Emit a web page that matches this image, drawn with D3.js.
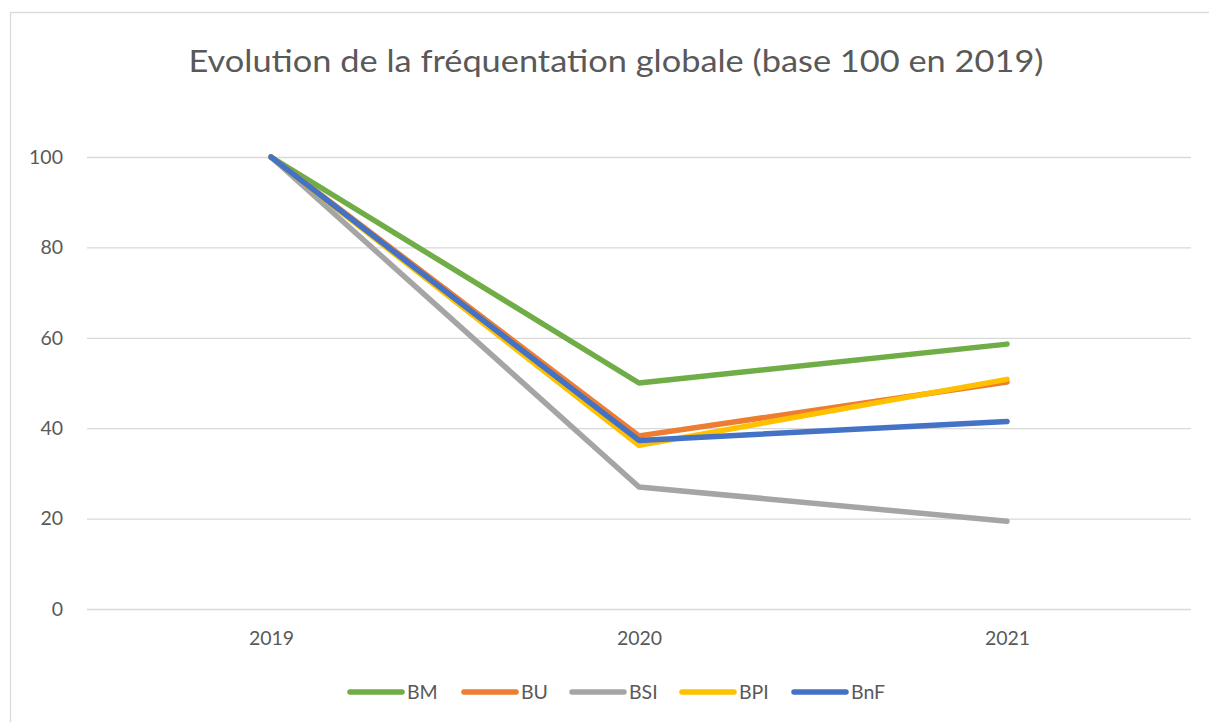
<!DOCTYPE html>
<html><head><meta charset="utf-8">
<script src="https://cdn.jsdelivr.net/npm/d3@7"></script>
<style>body{margin:0;background:#fff;}svg{display:block;}</style>
</head><body>
<svg id="c" width="1209" height="722"></svg>
<script>
const years = ["2019", "2020", "2021"];
const seriesNames = ["BM", "BU", "BSI", "BPI", "BnF"];
const BM = [100, 50, 58.6];
const BU = [100, 38.3, 50.2];
const BSI = [100, 27, 19.4];
const BPI = [100, 36.2, 50.8];
const BnF = [100, 37.3, 41.5];
const yTicks = [0, 20, 40, 60, 80, 100];
const colors = ["#70AD47", "#ED7D31", "#A5A5A5", "#FFC000", "#4472C4"];
const title = "Evolution de la fréquentation globale (base 100 en 2019)";

(function () {
const values = [BM, BU, BSI, BPI, BnF];
const series = seriesNames.map((n, i) => ({name: n, color: colors[i], vals: values[i]}));

const svg = d3.select("#c");
const font = "Lato, 'Open Sans', sans-serif";
svg.append("rect").attr("x", 10.5).attr("y", 12.5).attr("width", 1220).attr("height", 760)
  .attr("fill", "#fff").attr("stroke", "#d9d9d9").attr("stroke-width", 1.3);

const pl = 87, pr = 1191, pt = 157, pb = 609;
const x = d3.scalePoint().domain(years).range([pl, pr]).padding(0.5);
const y = d3.scaleLinear().domain([0, 100]).range([pb, pt]);

svg.append("text").attr("x", 616).attr("y", 72).attr("text-anchor", "middle")
  .attr("font-family", font).attr("font-size", 31).attr("fill", "#595959")
  .attr("textLength", 855).attr("lengthAdjust", "spacingAndGlyphs").text(title);

const yAxis = d3.axisLeft(y).tickValues(yTicks).tickSize(-(pr - pl)).tickPadding(24);
const gy = svg.append("g").attr("transform", `translate(${pl},0)`).call(yAxis);
gy.select(".domain").remove();
gy.selectAll(".tick line").attr("stroke", "#d9d9d9").attr("stroke-width", 1.3);
gy.selectAll(".tick text").attr("font-family", font).attr("font-size", 19.5).attr("fill", "#595959");

const xAxis = d3.axisBottom(x).tickSize(0).tickPadding(22);
const gx = svg.append("g").attr("transform", `translate(0,${pb})`).call(xAxis);
gx.select(".domain").remove();
gx.selectAll(".tick text").attr("font-family", font).attr("font-size", 19.5).attr("fill", "#595959");

const line = d3.line().x((d, i) => x(years[i])).y(d => y(d));
svg.append("g").selectAll("path").data(series).join("path")
  .attr("d", d => line(d.vals)).attr("fill", "none").attr("stroke", d => d.color)
  .attr("stroke-width", 5.5).attr("stroke-linecap", "round").attr("stroke-linejoin", "round");

const legX = [348, 462, 570, 680, 792];
const lg = svg.append("g").selectAll("g").data(series).join("g")
  .attr("transform", (d, i) => `translate(${legX[i]},692)`);
lg.append("line").attr("x1", 2).attr("x2", 54).attr("y1", 0).attr("y2", 0)
  .attr("stroke", d => d.color).attr("stroke-width", 5.5).attr("stroke-linecap", "round");
lg.append("text").attr("x", 59).attr("y", 7).attr("font-family", font).attr("font-size", 19.5)
  .attr("fill", "#595959").text(d => d.name);
})();
</script>
</body></html>
